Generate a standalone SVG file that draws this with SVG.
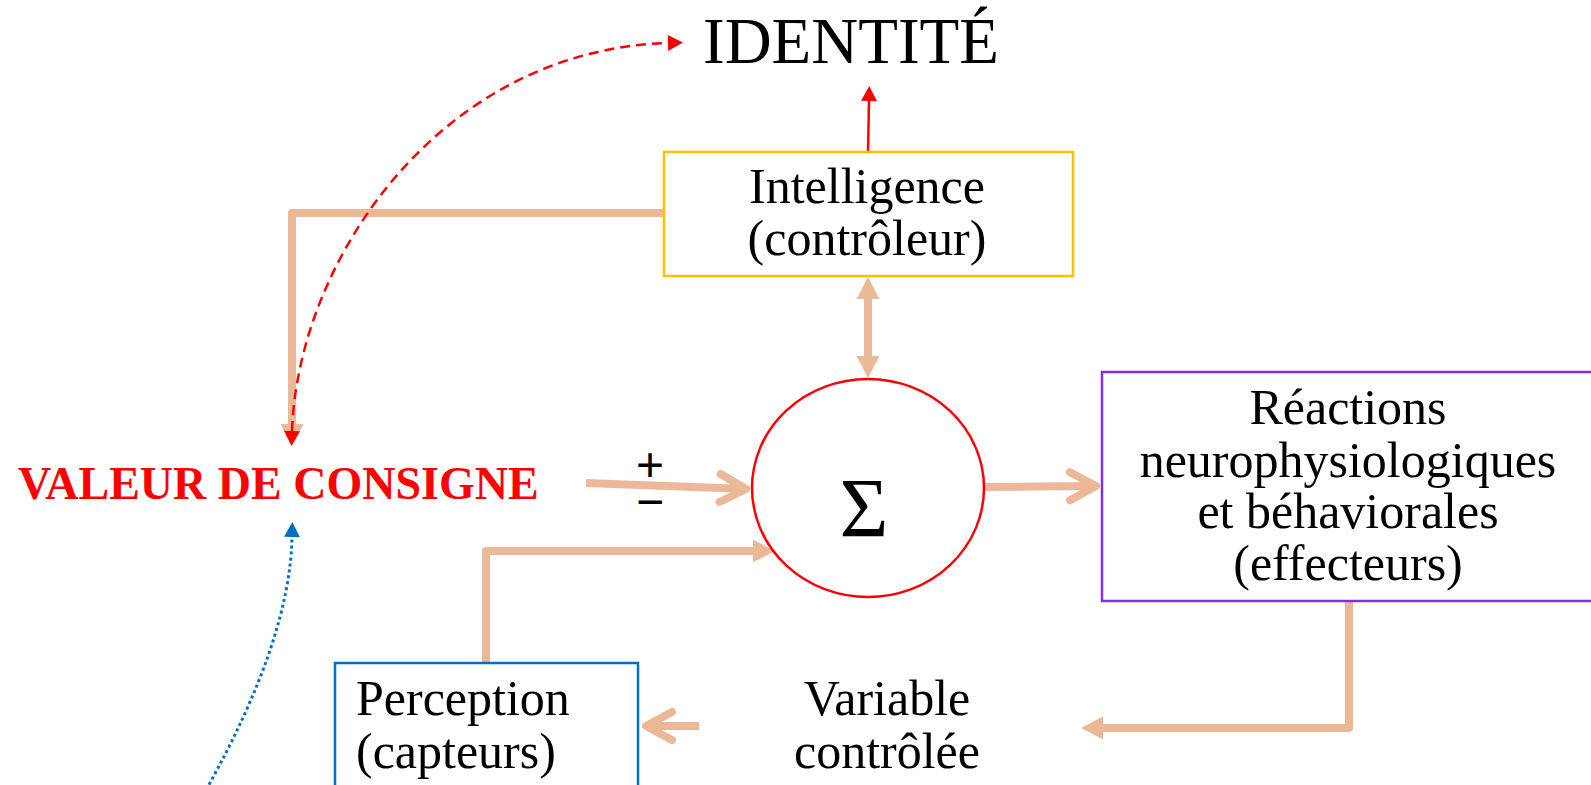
<svg xmlns="http://www.w3.org/2000/svg" width="1591" height="785" viewBox="0 0 1591 785">
<style>
.t{font-family:"Liberation Serif","Times New Roman",serif;font-size:50px;fill:#000}
.c{text-anchor:middle}
.br{fill:none;stroke:#EBB998;stroke-width:8;stroke-linejoin:round}
.rd{fill:none;stroke:#FF0000;stroke-width:2.5}
</style>
<defs>
<marker id="tri" markerUnits="userSpaceOnUse" viewBox="-1 -12 24 24" refX="0" refY="0" markerWidth="24" markerHeight="24" orient="auto-start-reverse" overflow="visible">
<path d="M0 -11.5 L22 0 L0 11.5 Z" fill="#EBB998"/>
</marker>
<marker id="chev" markerUnits="userSpaceOnUse" viewBox="-32 -20 40 40" refX="0" refY="0" markerWidth="40" markerHeight="40" orient="auto" overflow="visible">
<path d="M-26 -14 L0 0 L-26 14" fill="none" stroke="#EBB998" stroke-width="8" stroke-linecap="round" stroke-linejoin="round"/>
</marker>
<marker id="rtri" markerUnits="userSpaceOnUse" viewBox="-1 -9 18 18" refX="0" refY="0" markerWidth="18" markerHeight="18" orient="auto-start-reverse" overflow="visible">
<path d="M0 -8 L15 0 L0 8 Z" fill="#FF0000"/>
</marker>
<marker id="btri" markerUnits="userSpaceOnUse" viewBox="-1 -9 18 18" refX="0" refY="0" markerWidth="18" markerHeight="18" orient="auto" overflow="visible">
<path d="M0 -8 L15 0 L0 8 Z" fill="#0070C0"/>
</marker>
</defs>
<rect width="1591" height="785" fill="#fff"/>

<g id="connectors">
<path class="br" d="M664 213 L292 213 L292 424" marker-end="url(#tri)"/>
<path class="br" d="M868 299 L868 356" marker-start="url(#tri)" marker-end="url(#tri)"/>
<path class="br" d="M586 483 L746 489" marker-end="url(#chev)"/>
<path class="br" d="M984 487 L1096 486" marker-end="url(#chev)"/>
<path class="br" d="M1349 601 L1349 728 L1103 728" marker-end="url(#tri)"/>
<path class="br" d="M699 726 L646 726" marker-end="url(#chev)"/>
<path class="br" d="M486 663 L486 551 L753 551" marker-end="url(#tri)"/>
<path class="rd" d="M868 152 L869 101" marker-end="url(#rtri)"/>
<path class="rd" d="M292 431 C298 260 440 50 668 43" stroke-dasharray="10 6" marker-start="url(#rtri)" marker-end="url(#rtri)"/>
<path d="M206 790 Q290 640 292 537" fill="none" stroke="#0070C0" stroke-width="3" stroke-dasharray="3 3" marker-end="url(#btri)"/>
</g>

<g id="identite">
<text class="t" x="703" y="63" style="font-size:65px">IDENTITÉ</text>
</g>

<g id="intelligence">
<rect x="664" y="152" width="409" height="124" fill="none" stroke="#FFC000" stroke-width="2.5"/>
<text class="t c" x="867" y="203">Intelligence</text>
<text class="t c" x="867" y="255">(contrôleur)</text>
</g>

<g id="consigne">
<text x="18" y="499" style="font-family:'Liberation Serif','Times New Roman',serif;font-weight:bold;font-size:46px;fill:#FF0000">VALEUR DE CONSIGNE</text>
</g>

<g id="signes">
<text style="font-family:'Liberation Sans',Arial,sans-serif;font-size:48px;text-anchor:middle;fill:#000"><tspan x="650" y="481">+</tspan><tspan x="650" y="518">−</tspan></text>
</g>

<g id="somme">
<ellipse cx="868" cy="488" rx="116" ry="109" fill="none" stroke="#FF0000" stroke-width="2.5"/>
<text class="t c" x="864" y="537" style="font-size:84px">Σ</text>
</g>

<g id="effecteurs">
<rect x="1102" y="372" width="520" height="229" fill="none" stroke="#7F30E0" stroke-width="2.5"/>
<text class="t c" x="1348" y="424">Réactions</text>
<text class="t c" x="1348" y="477">neurophysiologiques</text>
<text class="t c" x="1348" y="528">et béhaviorales</text>
<text class="t c" x="1348" y="580">(effecteurs)</text>
</g>

<g id="variable">
<text class="t c" x="887" y="715">Variable</text>
<text class="t c" x="887" y="768">contrôlée</text>
</g>

<g id="perception">
<rect x="335" y="663" width="303" height="140" fill="none" stroke="#0070C0" stroke-width="2.5"/>
<text class="t" x="356" y="715">Perception</text>
<text class="t" x="356" y="768">(capteurs)</text>
</g>
</svg>
